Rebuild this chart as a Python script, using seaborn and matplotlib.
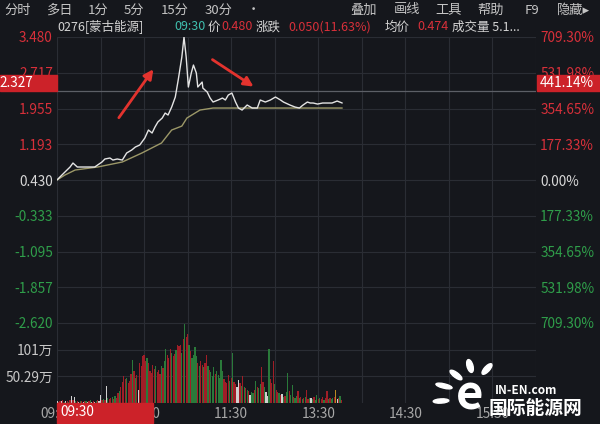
import numpy as np
import pandas as pd
import matplotlib.pyplot as plt
import matplotlib.patches as mpatches
from matplotlib.transforms import blended_transform_factory
import seaborn as sns

BG = '#15171c'
GRID = '#2a2d34'
RED = '#d8303a'
GREEN = '#2f9e4a'
TXT = '#c8c8c8'

# price line (trading minute from 09:30, price)
price_min = [0, 2, 5.5, 9, 11, 14, 17, 21, 26, 28, 31, 33, 36.5, 38.5, 41.5, 45, 48, 51.5, 54, 57, 60.5, 63,
             65.5, 67.5, 69.5, 72.5, 74.5, 76.5, 79, 81.5, 83.5, 86, 87.5, 89, 90.5, 92.5, 94, 96, 97, 100,
             100.5, 103.5, 105.5, 107.5, 111, 114, 116, 118, 120.5, 123, 125, 127.5, 131, 134.5, 138, 140,
             143.5, 147, 150.5, 154, 156, 160.5, 164, 167, 169.5, 172.5, 174.5, 176.5, 179.5, 183, 186, 189.5,
             193, 196.5]
price_val = [0.430, 0.494, 0.601, 0.707, 0.792, 0.707, 0.707, 0.707, 0.707, 0.750, 0.814, 0.878, 0.899, 0.856,
             0.878, 0.856, 1.006, 1.070, 1.134, 1.176, 1.325, 1.496, 1.432, 1.560, 1.667, 1.752, 1.858, 1.816,
             1.986, 2.200, 2.562, 3.052, 3.480, 3.052, 2.413, 2.711, 2.882, 2.711, 2.413, 2.519, 2.391, 2.306,
             2.178, 2.093, 2.136, 2.178, 2.136, 2.242, 2.285, 2.093, 1.965, 1.922, 2.029, 1.965, 1.965, 2.136,
             2.093, 2.136, 2.200, 2.136, 2.093, 2.029, 1.986, 1.965, 2.029, 2.093, 2.072, 2.072, 2.050, 2.072,
             2.072, 2.072, 2.114, 2.072]

# average price line
avg_min = [0, 5.5, 12.5, 28, 45, 58.5, 72, 79, 86, 89.5, 98.5, 107.5, 121.5, 196.5]
avg_val = [0.430, 0.537, 0.643, 0.707, 0.814, 1.006, 1.219, 1.496, 1.580, 1.752, 1.922, 1.965, 1.965, 1.965]

# volume per minute (万) and bar colour code
vol = [3, 2, 4, 3, 5, 2, 3, 4, 2, 6,
       13, 5, 12, 4, 3, 2, 4, 3, 2, 3,
       4, 2, 3, 5, 2, 3, 2, 4, 6, 3,
       15, 5, 8, 6, 32, 9, 7, 10, 12, 8,
       14, 10, 18, 22, 30, 40, 51, 45, 48, 38,
       42, 55, 82, 60, 48, 52, 25, 76, 70, 88,
       91, 80, 85, 75, 60, 57, 72, 65, 70, 58,
       62, 55, 70, 66, 80, 101, 90, 85, 101, 95,
       88, 92, 100, 110, 108, 110, 95, 120, 150, 125,
       130, 110, 98, 85, 90, 105, 88, 76, 70, 80,
       72, 68, 75, 91, 70, 62, 58, 50, 67, 55,
       60, 52, 48, 82, 60, 45, 40, 38, 53, 42,
       48, 95, 40, 35, 30, 44, 38, 32, 51, 30,
       28, 25, 22, 15, 20, 18, 25, 42, 30, 28,
       35, 67, 40, 30, 20, 13, 101, 45, 38, 80,
       35, 25, 20, 18, 15, 17, 12, 14, 20, 57,
       22, 15, 34, 12, 10, 14, 23, 10, 12, 8,
       10, 12, 25, 8, 10, 9, 7, 12, 6, 15,
       8, 10, 7, 12, 6, 9, 23, 8, 10, 7,
       9, 12, 25, 8, 10, 13, 6]
vol_col = ("wrrwrgwrgr" "wrwgrwgrwr" "gwrgwrwgrw" "wrgrwgrrgr" "grrgrrrrgr"
           "rrgrgrwrrr" "rrgrrrrrgr" "rrgrggrrrg" "rrgrrrgrgr" "rgrggggrgr"
           "rgrrgrgggr" "gggggrrrrg" "rgrrwwrgrg" "rgrwggrgrg" "grrgwwgrrr"
           "grrgrwgrgg" "rggrggrgrg" "rgrrgwgrgg" "rgrrgrrgrg" "grywrgr")

price_ticks = [3.480, 2.717, 1.955, 1.193, 0.430, -0.333, -1.095, -1.857, -2.620]
pct_labels = ['709.30%', '531.98%', '354.65%', '177.33%', '0.00%', '177.33%', '354.65%', '531.98%', '709.30%']
vol_ticks = [50.29, 100.58]
vol_labels = ['50.29万', '101万']
time_ticks = [0, 60, 120, 180, 240, 300]
time_labels = ['09:30', '10:30', '11:30', '13:30', '14:30', '15:30']
prev_close = 0.430
last_price = 2.327
last_pct = '441.14%'

sns.set_style('dark')
plt.rcParams['font.family'] = ['Noto Sans CJK SC', 'DejaVu Sans']

fig = plt.figure(figsize=(6, 4.24), dpi=100, facecolor=BG)


def fx(x):
    return x / 600


def fy(y):
    return 1 - y / 424


ax = fig.add_axes([fx(57), fy(323), fx(536 - 57), (323 - 37) / 424], facecolor=BG)
vax = fig.add_axes([fx(57), fy(403), fx(536 - 57), (403 - 323) / 424], facecolor=BG)

# price panel
sns.lineplot(x=avg_min, y=avg_val, ax=ax, color='#9c9868', lw=1.0)
sns.lineplot(x=price_min, y=price_val, ax=ax, color='#e4e4e4', lw=1.0)
ax.axhline(last_price, color='#5c5f66', lw=0.9, zorder=1)
ax.set_xlim(0, 330)
ax.set_ylim(-2.62, 3.48)
ax.set_yticks(price_ticks)
ax.set_yticklabels([f'{v:.3f}' for v in price_ticks])
for lab, v in zip(ax.get_yticklabels(), price_ticks):
    lab.set_color(RED if v > prev_close else (GREEN if v < prev_close else '#d8d8d8'))
ax.set_xticks(range(0, 331, 30))
ax.set_xticklabels([])
ax.tick_params(length=0, labelsize=9.8, pad=3)
ax.grid(True, color=GRID, lw=0.8)
for s in ax.spines.values():
    s.set_visible(False)

rax = ax.twinx()
rax.set_ylim(ax.get_ylim())
rax.set_yticks(price_ticks)
rax.set_yticklabels(pct_labels)
for lab, v in zip(rax.get_yticklabels(), price_ticks):
    lab.set_color(RED if v > prev_close else (GREEN if v < prev_close else '#d8d8d8'))
rax.tick_params(length=0, labelsize=9.8, pad=3)
rax.grid(False)
for s in rax.spines.values():
    s.set_visible(False)

# arrows
ax.annotate('', xy=(67.5, 2.84), xytext=(41.5, 1.71),
            arrowprops=dict(arrowstyle='-|>', color='#e3332e', lw=2.0, mutation_scale=14))
ax.annotate('', xy=(137, 2.39), xytext=(105.5, 3.03),
            arrowprops=dict(arrowstyle='-|>', color='#e3332e', lw=2.0, mutation_scale=14))

# volume panel
df = pd.DataFrame({'minute': np.arange(len(vol)), 'vol': vol, 'c': list(vol_col)})
sns.barplot(data=df, x='minute', y='vol', hue='c', native_scale=True, dodge=False, width=0.85,
            palette={'r': '#a01e27', 'g': '#2a7a3a', 'w': '#d0d0d0', 'y': '#b88a22'},
            saturation=1, legend=False, linewidth=0, errorbar=None, ax=vax)
vax.set_xlim(0, 330)
vax.set_ylim(0, 150.87)
vax.set_yticks(vol_ticks)
vax.set_yticklabels(vol_labels, color=TXT)
vax.set_xticks(time_ticks)
vax.set_xticklabels(time_labels, color='#a8a8a8')
vax.set_xticks(range(0, 331, 30), minor=True)
vax.set_xlabel('')
vax.set_ylabel('')
vax.tick_params(which='both', length=0, labelsize=9.8, pad=3)
vax.grid(True, which='both', axis='x', color=GRID, lw=0.8)
vax.grid(True, which='major', axis='y', color=GRID, lw=0.8)
vax.axhline(150.87, color=GRID, lw=0.8)
for s in vax.spines.values():
    s.set_visible(False)

# red value boxes
tr = blended_transform_factory(fig.transFigure, ax.transData)
box_h = 16 / 46.9
fig.add_artist(mpatches.Rectangle((0, last_price), fx(57), box_h, transform=tr, color='#cc2229', zorder=5))
fig.add_artist(mpatches.Rectangle((fx(537), last_price), fx(63), box_h, transform=tr, color='#cc2229', zorder=5))
fig.text(fx(33), last_price + box_h / 2, f'{last_price:.3f}', transform=tr, ha='right', va='center',
         color='white', fontsize=9.8, zorder=6)
fig.text(fx(540), last_price + box_h / 2, last_pct, transform=tr, ha='left', va='center',
         color='white', fontsize=9.8, zorder=6)
fig.add_artist(mpatches.Rectangle((fx(57), fy(423)), fx(96), 20 / 424, transform=fig.transFigure,
                                  color='#cc2229', zorder=5))
fig.text(fx(60), fy(412.5), time_labels[0], ha='left', va='center', color='white', fontsize=9.8, zorder=6)

# toolbar
for s, x in [('分时', 4), ('多日', 46), ('1分', 88), ('5分', 124), ('15分', 161), ('30分', 205), ('•', 247),
             ('叠加', 350), ('画线', 394), ('工具', 435), ('帮助', 477), ('F9', 525), ('隐藏▸', 557)]:
    fig.text(fx(x), fy(10), s, ha='left', va='center', color='#c4c4c4', fontsize=9.5)

for s, x, c in [('0276[蒙古能源]', 57, '#d4d4d4'), ('09:30', 174, '#3fbfae'), ('价', 208, '#d4d4d4'),
                ('0.480', 221, RED), ('涨跌', 256, '#d4d4d4'), ('0.050(11.63%)', 288, RED),
                ('均价', 385, '#d4d4d4'), ('0.474', 417, RED), ('成交量 5.1...', 452, '#d4d4d4')]:
    fig.text(fx(x), fy(27), s, ha='left', va='center', color=c, fontsize=9)

# watermark
for cx, cy, w, h, a in [(470, 366, 6, 13, 10), (487, 369, 6, 12, -30), (456, 375, 6, 12, 40),
                        (444, 386, 6, 12, 70), (441, 401, 6, 11, 95)]:
    fig.add_artist(mpatches.Ellipse((fx(cx), fy(cy)), fx(w), h / 424, angle=a,
                                    transform=fig.transFigure, color='white', zorder=7))
fig.text(fx(470), fy(395), 'e', ha='center', va='center', color='white', fontsize=34,
         fontweight='bold', zorder=7)
fig.text(fx(495), fy(391), 'IN-EN.com', ha='left', va='center', color='white', fontsize=8.5,
         fontweight='bold', style='italic', zorder=7)
fig.text(fx(489), fy(408), '国际能源网', ha='left', va='center', color='white', fontsize=13.5,
         fontweight='bold', zorder=7)

fig.savefig('out.png', dpi=100, facecolor=BG)
